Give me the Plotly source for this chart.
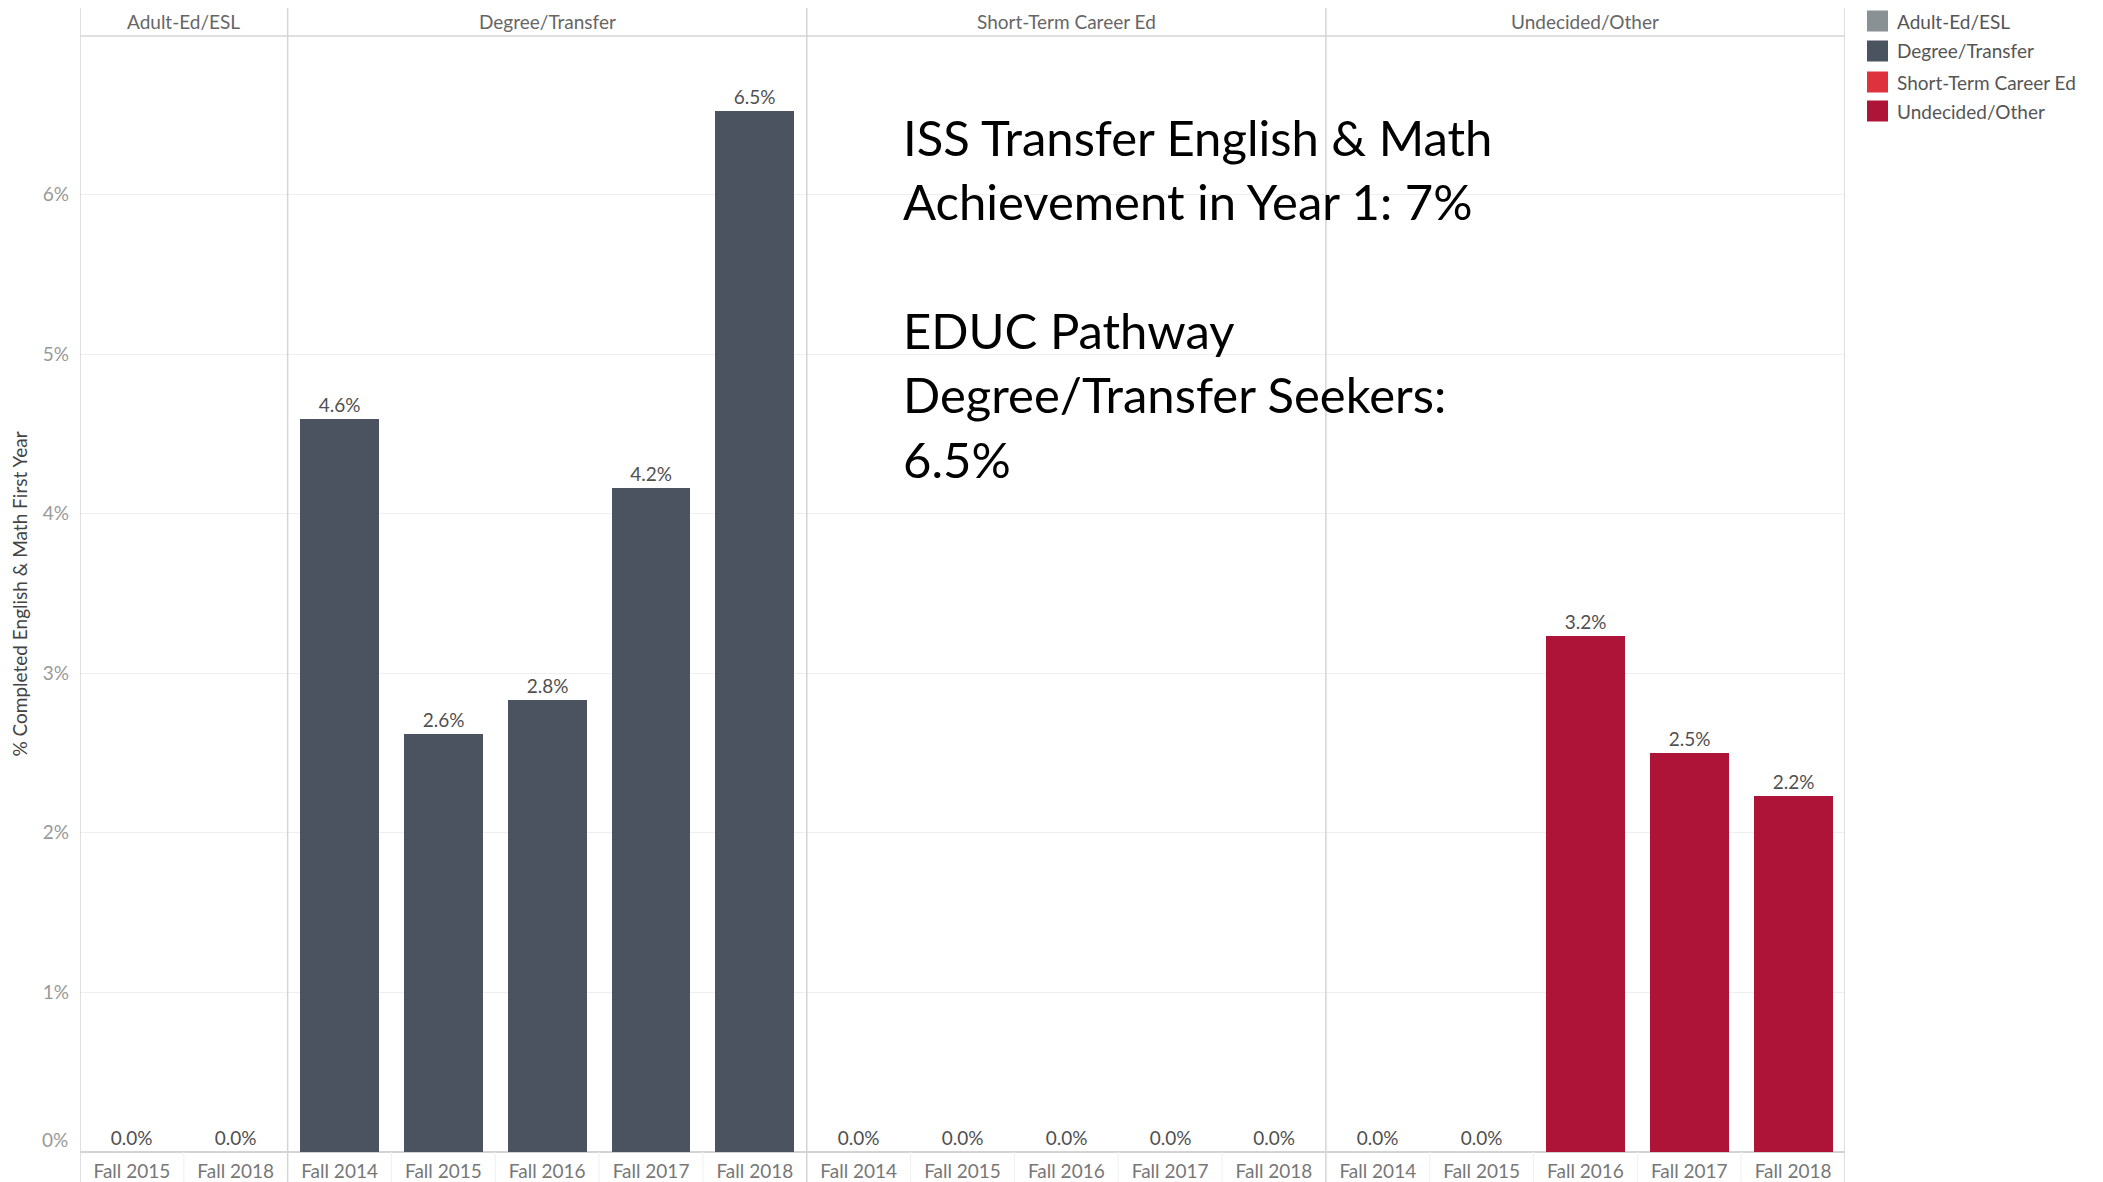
import plotly.graph_objects as go

# ---- data ----
pathways = ["Adult-Ed/ESL", "Degree/Transfer", "Short-Term Career Ed", "Undecided/Other"]
adult_terms = ["Fall 2015", "Fall 2018"]
adult_vals = [0.0, 0.0]
degree_terms = ["Fall 2014", "Fall 2015", "Fall 2016", "Fall 2017", "Fall 2018"]
degree_vals = [4.59, 2.62, 2.83, 4.16, 6.52]
short_terms = ["Fall 2014", "Fall 2015", "Fall 2016", "Fall 2017", "Fall 2018"]
short_vals = [0.0, 0.0, 0.0, 0.0, 0.0]
undecided_terms = ["Fall 2014", "Fall 2015", "Fall 2016", "Fall 2017", "Fall 2018"]
undecided_vals = [0.0, 0.0, 3.23, 2.50, 2.23]
y_ticks = [0, 1, 2, 3, 4, 5, 6]
note_lines = ["ISS Transfer English & Math", "Achievement in Year 1: 7%", "",
              "EDUC Pathway", "Degree/Transfer Seekers:", "6.5%"]

colors = {"Adult-Ed/ESL": "#899194", "Degree/Transfer": "#4B5260",
          "Short-Term Career Ed": "#DF323F", "Undecided/Other": "#AE1438"}

groups = [("Adult-Ed/ESL", adult_terms, adult_vals),
          ("Degree/Transfer", degree_terms, degree_vals),
          ("Short-Term Career Ed", short_terms, short_vals),
          ("Undecided/Other", undecided_terms, undecided_vals)]

OFF = 8  # page body margin
W, H = 2103, 1182
L, R, T, B = 80 - OFF, 1845 - OFF, 36 - OFF, 1152 - OFF  # plot area in figure pixels
pw, ph = R - L, B - T

def px(xs):  # screen x -> paper
    return (xs - OFF - L) / pw

def py(ys):  # screen y -> paper
    return (B - (ys - OFF)) / ph

FONT = "Lato"
SM = 19
fig = go.Figure()
tickvals, ticktext = [], []
bounds = []
pos = 0
for name, terms, vals in groups:
    xs = list(range(pos, pos + len(terms)))
    bounds.append((pos, pos + len(terms)))
    tickvals += xs
    ticktext += terms
    fig.add_trace(go.Bar(
        x=xs, y=vals, name=name, width=0.76,
        marker=dict(color=colors[name], line=dict(width=0)),
        text=[f"{v:.1f}%" for v in vals], textposition="outside",
        textfont=dict(family=FONT, size=SM, color="#505050"),
        cliponaxis=False, showlegend=False))
    pos += len(terms)

n = pos
shapes = []
shapes.append(dict(type="line", xref="paper", yref="paper", x0=0, x1=1, y0=1, y1=1,
                   line=dict(color="#d4d4d4", width=1.5)))
for xv in [-0.5] + [b[1] - 0.5 for b in bounds]:
    shapes.append(dict(type="line", xref="x", yref="paper", x0=xv, x1=xv,
                       y0=py(1190), y1=py(5), line=dict(color="#d4d4d4", width=1.5)))
edges = {b[1] for b in bounds}
for k in range(1, n):
    if k not in edges:
        shapes.append(dict(type="line", xref="x", yref="paper", x0=k - 0.5, x1=k - 0.5,
                           y0=py(1190), y1=0, line=dict(color="#f0f0f0", width=1)))
leg_y = [21, 51, 82, 111]
annotations = []
for name, yc in zip(pathways, leg_y):
    shapes.append(dict(type="rect", xref="paper", yref="paper",
                       x0=px(1867), x1=px(1888), y0=py(yc + 10.5), y1=py(yc - 10.5),
                       fillcolor=colors[name], line=dict(width=0)))
    annotations.append(dict(text=name, xref="paper", yref="paper", x=px(1895), y=py(yc),
                            xanchor="left", yanchor="middle", showarrow=False,
                            font=dict(family=FONT, size=SM, color="#555555")))
for (name, terms, vals), (a, b) in zip(groups, bounds):
    annotations.append(dict(text=name, xref="x", yref="paper", x=(a + b - 1) / 2, y=py(21),
                            xanchor="center", yanchor="middle", showarrow=False,
                            font=dict(family=FONT, size=SM, color="#666666")))
note_y = [137, 201, 265, 330, 394, 459]
for line, yc in zip(note_lines, note_y):
    if line:
        annotations.append(dict(text=line, xref="paper", yref="paper", x=px(901), y=py(yc),
                                xanchor="left", yanchor="middle", showarrow=False,
                                font=dict(family=FONT, size=49, color="#000000")))
# Tableau nudges the 0% tick label up above the baseline
annotations.append(dict(text=f"{y_ticks[0]}%", xref="paper", yref="paper", x=px(70), y=py(1139),
                        xanchor="right", yanchor="middle", showarrow=False,
                        font=dict(family=FONT, size=SM, color="#999999")))

fig.update_layout(
    width=W, height=H,
    margin=dict(l=L, r=W - R, t=T, b=H - B, pad=0, autoexpand=False),
    paper_bgcolor="white", plot_bgcolor="white",
    bargap=0, showlegend=False,
    shapes=shapes, annotations=annotations,
    font=dict(family=FONT),
)
fig.update_xaxes(range=[-0.5, n - 0.5], tickvals=tickvals, ticktext=ticktext,
                 tickfont=dict(family=FONT, size=SM, color="#777777"),
                 showgrid=False, zeroline=False, showline=False, ticks="", ticklen=0,
                 ticklabelstandoff=6, automargin=False)
fig.update_yaxes(range=[0, ph / 159.6], tickvals=y_ticks,
                 ticktext=["" if v == 0 else f"{v}%" for v in y_ticks],
                 tickfont=dict(family=FONT, size=SM, color="#999999"),
                 showgrid=True, gridcolor="#efefef", gridwidth=1,
                 zeroline=True, zerolinecolor="#d4d4d4", zerolinewidth=1.5,
                 showline=False, ticks="", ticklabelstandoff=10, automargin=False,
                 title=dict(text="% Completed English & Math First Year", standoff=12,
                            font=dict(family=FONT, size=SM, color="#444444")))

fig.write_html("out.html")
